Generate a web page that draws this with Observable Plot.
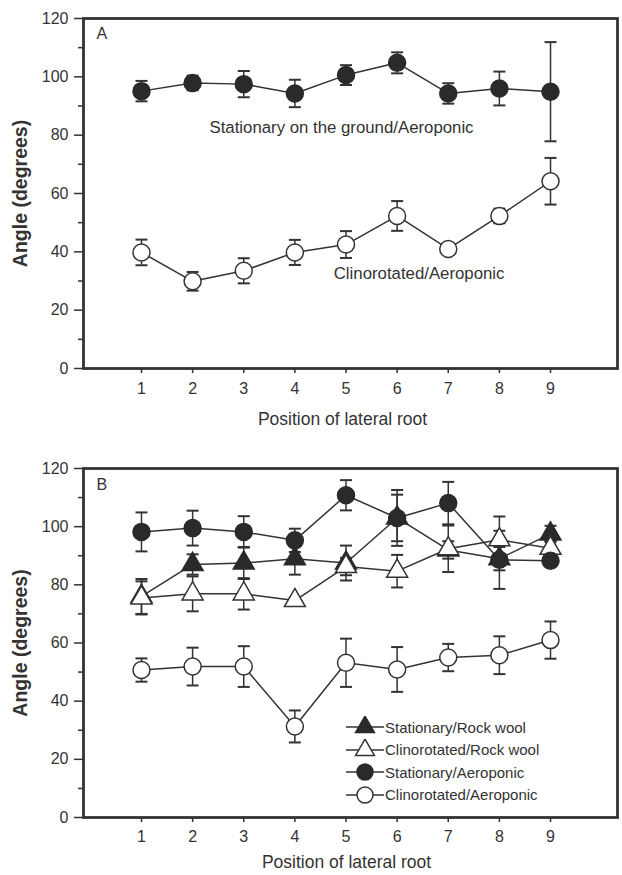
<!DOCTYPE html>
<html>
<head>
<meta charset="utf-8">
<script src="https://cdn.jsdelivr.net/npm/d3@7"></script>
<script src="https://cdn.jsdelivr.net/npm/@observablehq/plot@0.6"></script>
<style>
  body { margin: 0; background: #fff; }
  #wrap { position: relative; width: 622px; height: 875px; font-family: "Liberation Sans", Arial, sans-serif; color: #333; }
  #wrap svg { display: block; }
  .legend { position: absolute; left: 346px; top: 276px; font-size: 15px; color: #333; }
  .legend .row { display: flex; align-items: center; height: 22px; margin-bottom: 0.5px; }
  .legend svg { margin-right: 1px; }
</style>
</head>
<body>
<div id="wrap"></div>
<script>
// ---------- data ----------
const positions = [1, 2, 3, 4, 5, 6, 7, 8, 9];
const yTicks = [0, 20, 40, 60, 80, 100, 120];
const yMinorTicks = [10, 30, 50, 70, 90, 110];

// Panel A
const aStationary    = [95.1, 97.9, 97.5, 94.3, 100.6, 104.8, 94.3, 96.0, 94.9];
const aStationaryErr = [3.5, 2.5, 4.5, 4.7, 3.4, 3.6, 3.5, 5.8, 17.0];
const aClino         = [39.8, 29.9, 33.5, 39.8, 42.5, 52.3, 41.0, 52.3, 64.2];
const aClinoErr      = [4.4, 3.2, 4.3, 4.3, 4.6, 5.1, 2.0, 2.5, 8.0];

// Panel B
const bStatRock      = [76.0, 87.0, 87.5, 89.0, 87.5, 103.0, 92.0, 89.0, 97.5];
const bStatRockErr   = [6.0, 3.5, 5.5, 5.5, 6.0, 8.0, 3.0, 4.0, 2.8];
const bClinoRock     = [75.5, 76.9, 76.9, 74.6, 86.3, 84.7, 92.4, 95.5, 92.6];
const bClinoRockErr  = [5.7, 6.0, 5.4, 1.0, 3.0, 5.6, 8.0, 8.0, 2.5];
const bStatAero      = [98.2, 99.5, 98.2, 95.3, 110.8, 103.0, 108.1, 88.6, 88.3];
const bStatAeroErr   = [6.7, 6.0, 5.4, 4.0, 5.2, 9.6, 7.3, 10.0, 1.5];
const bClinoAero     = [50.7, 51.9, 51.9, 31.3, 53.2, 50.9, 55.0, 55.8, 61.0];
const bClinoAeroErr  = [4.0, 6.5, 7.0, 5.5, 8.3, 7.7, 4.7, 6.5, 6.4];

const xTitle = "Position of lateral root";
const yTitle = "Angle (degrees)";
const annotationsA = [
  {label: "Stationary on the ground/Aeroponic", x: 2.33, y: 82.6},
  {label: "Clinorotated/Aeroponic", x: 4.76, y: 32.6}
];
const legendB = [
  {label: "Stationary/Rock wool", symbol: "triangle", filled: true},
  {label: "Clinorotated/Rock wool", symbol: "triangle", filled: false},
  {label: "Stationary/Aeroponic", symbol: "circle", filled: true},
  {label: "Clinorotated/Aeroponic", symbol: "circle", filled: false}
];

// ---------- helpers ----------
const INK = "#333";
const DARK = "#2a2a2a";
const rowsOf = (vals, errs) => positions.map((p, i) => ({x: p, y: vals[i], e: errs[i]}));
const capSymbol = {
  draw(context, size) {
    const r = Math.sqrt(size / Math.PI);
    context.moveTo(-r, 0);
    context.lineTo(r, 0);
  }
};

function seriesMarks(rows) {
  return [
    Plot.ruleX(rows, {x: "x", y1: d => d.y - d.e, y2: d => d.y + d.e, stroke: INK, strokeWidth: 1.5}),
    Plot.dot(rows, {x: "x", y: d => d.y + d.e, symbol: capSymbol, r: 6, fill: "none", stroke: INK, strokeWidth: 2}),
    Plot.dot(rows, {x: "x", y: d => d.y - d.e, symbol: capSymbol, r: 6, fill: "none", stroke: INK, strokeWidth: 2})
  ];
}
function lineMark(rows) {
  return Plot.line(rows, {x: "x", y: "y", stroke: INK, strokeWidth: 1.5});
}
function markerMark(rows, symbol, filled) {
  const r = symbol === "circle" ? 8.5 : 7.8;
  return Plot.dot(rows, {
    x: "x", y: "y", symbol, r,
    fill: filled ? DARK : "white",
    stroke: filled ? DARK : INK,
    strokeWidth: 1.5
  });
}

function basePlot({height, marginTop, marginBottom, titleDy, titleDx, tickPadding, letter, letterDy, marks}) {
  return Plot.plot({
    width: 622,
    height,
    marginTop,
    marginBottom,
    marginLeft: 83,
    marginRight: 5,
    style: {fontFamily: "'Liberation Sans', Arial, sans-serif", fontSize: "16px", color: INK, background: "white", overflow: "visible"},
    x: {domain: [-0.134, 10.31]},
    y: {domain: [0, 120]},
    marks: [
      Plot.axisY(yTicks, {tickSize: 9, tickPadding: 6, fontSize: 16, label: null, stroke: INK, strokeWidth: 1.5}),
      Plot.axisY(yMinorTicks, {tickSize: 5, tickFormat: () => "", label: null, stroke: INK, strokeWidth: 1.5}),
      Plot.axisX(positions, {tickSize: 5, tickPadding: tickPadding, fontSize: 16, label: null, stroke: INK, strokeWidth: 1.5}),
      Plot.text([xTitle], {frameAnchor: "bottom", dy: titleDy, dx: titleDx, fontSize: 17.5, lineAnchor: "middle"}),
      Plot.text([yTitle], {frameAnchor: "left", rotate: -90, dx: -63, fontSize: 19.5, fontWeight: "bold", textAnchor: "middle", lineAnchor: "middle"}),
      Plot.text([letter], {frameAnchor: "top-left", dx: 13, dy: letterDy, fontSize: 16, textAnchor: "start", lineAnchor: "middle"}),
      ...marks,
      Plot.frame({stroke: INK, strokeWidth: 2.8})
    ]
  });
}

// ---------- Panel A ----------
const rA1 = rowsOf(aStationary, aStationaryErr);
const rA2 = rowsOf(aClino, aClinoErr);
const plotA = basePlot({
  height: 440, marginTop: 18, marginBottom: 72, titleDy: 51, titleDx: -8, tickPadding: 9,
  letter: "A", letterDy: 15,
  marks: [
    lineMark(rA1), lineMark(rA2),
    ...seriesMarks(rA1), ...seriesMarks(rA2),
    markerMark(rA1, "circle", true),
    markerMark(rA2, "circle", false),
    Plot.text(annotationsA, {x: "x", y: "y", text: "label", textAnchor: "start", lineAnchor: "middle", fontSize: 16.8})
  ]
});

// ---------- Panel B ----------
const rB1 = rowsOf(bStatRock, bStatRockErr);
const rB2 = rowsOf(bClinoRock, bClinoRockErr);
const rB3 = rowsOf(bStatAero, bStatAeroErr);
const rB4 = rowsOf(bClinoAero, bClinoAeroErr);
const plotB = basePlot({
  height: 435, marginTop: 28, marginBottom: 58, titleDy: 45, titleDx: -4, tickPadding: 8,
  letter: "B", letterDy: 16,
  marks: [
    lineMark(rB1), lineMark(rB2), lineMark(rB3), lineMark(rB4),
    ...seriesMarks(rB1), ...seriesMarks(rB2), ...seriesMarks(rB3), ...seriesMarks(rB4),
    markerMark(rB1, "triangle", true),
    markerMark(rB2, "triangle", false),
    markerMark(rB3, "circle", true),
    markerMark(rB4, "circle", false)
  ]
});

const wrap = document.getElementById("wrap");
const boxA = document.createElement("div");
boxA.style.cssText = "position:absolute;left:0;top:0;";
boxA.appendChild(plotA);
const boxB = document.createElement("div");
boxB.style.cssText = "position:absolute;left:0;top:440px;width:622px;height:435px;";
boxB.appendChild(plotB);
wrap.appendChild(boxA);
wrap.appendChild(boxB);

// legend (panel B)
const legend = document.createElement("div");
legend.className = "legend";
for (const item of legendB) {
  const row = document.createElement("div");
  row.className = "row";
  const ns = "http://www.w3.org/2000/svg";
  const s = document.createElementNS(ns, "svg");
  s.setAttribute("width", 38); s.setAttribute("height", 22);
  const ln = document.createElementNS(ns, "line");
  ln.setAttribute("x1", 0); ln.setAttribute("x2", 38); ln.setAttribute("y1", 11); ln.setAttribute("y2", 11);
  ln.setAttribute("stroke", INK); ln.setAttribute("stroke-width", 1.5);
  s.appendChild(ln);
  const p = document.createElementNS(ns, "path");
  const sym = item.symbol === "circle" ? d3.symbolCircle : d3.symbolTriangle;
  const size = item.symbol === "circle" ? Math.PI * 8 * 8 : Math.PI * 7 * 7;
  p.setAttribute("d", d3.symbol(sym, size)());
  p.setAttribute("transform", "translate(19,11)");
  p.setAttribute("fill", item.filled ? DARK : "white");
  p.setAttribute("stroke", item.filled ? DARK : INK);
  p.setAttribute("stroke-width", 1.5);
  s.appendChild(p);
  row.appendChild(s);
  const t = document.createElement("span");
  t.textContent = item.label;
  row.appendChild(t);
  legend.appendChild(row);
}
boxB.appendChild(legend);
</script>
</body>
</html>
